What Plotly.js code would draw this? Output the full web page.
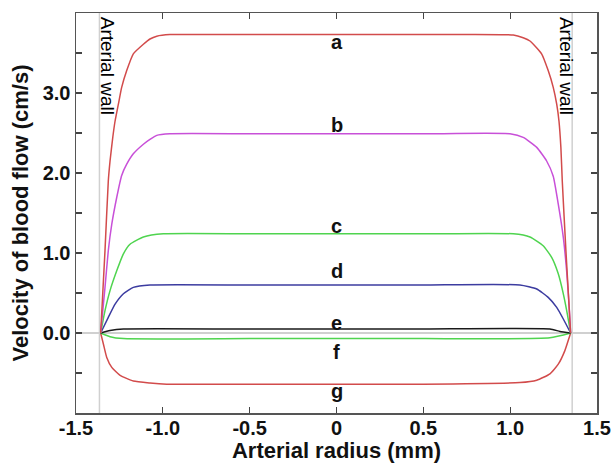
<!DOCTYPE html>
<html>
<head>
<meta charset="utf-8">
<script src="https://cdn.plot.ly/plotly-3.0.1.min.js"></script>
<style>html,body{margin:0;padding:0;background:#fff;}#chart{width:614px;height:463px;}</style>
</head>
<body>
<div id="chart"></div>
<script>
// Curve a
const xA = [-1.358, -1.333, -1.314, -1.304, -1.288, -1.275, -1.256, -1.237, -1.208, -1.170, -1.112, -1.074, -1.035, -0.959, -0.5, 0, 0.5, 1.018, 1.075, 1.114, 1.181, 1.219, 1.248, 1.268, 1.281, 1.292, 1.300, 1.321, 1.348];
const yA = [0, 1.03, 1.90, 2.15, 2.45, 2.65, 2.86, 3.07, 3.28, 3.49, 3.61, 3.675, 3.71, 3.73, 3.73, 3.73, 3.73, 3.725, 3.69, 3.65, 3.49, 3.28, 3.07, 2.86, 2.65, 2.32, 1.90, 1.03, 0];
// Curve b
const xB = [-1.358, -1.333, -1.314, -1.294, -1.265, -1.237, -1.208, -1.170, -1.112, -1.074, -1.035, -0.959, -0.5, 0, 0.5, 0.999, 1.075, 1.153, 1.210, 1.248, 1.277, 1.306, 1.325, 1.339, 1.348];
const yB = [0, 0.57, 1.03, 1.36, 1.70, 1.97, 2.11, 2.24, 2.36, 2.42, 2.47, 2.49, 2.49, 2.49, 2.49, 2.49, 2.445, 2.32, 2.15, 1.96, 1.61, 1.195, 0.78, 0.36, 0];
// Curve c
const xC = [-1.358, -1.333, -1.304, -1.265, -1.227, -1.189, -1.112, -0.997, -0.5, 0, 0.5, 1.018, 1.114, 1.19, 1.239, 1.277, 1.306, 1.329, 1.348];
const yC = [0, 0.28, 0.53, 0.78, 0.99, 1.11, 1.20, 1.24, 1.24, 1.24, 1.24, 1.24, 1.20, 1.09, 0.945, 0.74, 0.49, 0.24, 0];
// Curve d
const xD = [-1.358, -1.314, -1.275, -1.227, -1.170, -1.074, -0.5, 0, 0.5, 1.056, 1.153, 1.219, 1.268, 1.306, 1.348];
const yD = [0, 0.195, 0.36, 0.49, 0.57, 0.60, 0.60, 0.60, 0.60, 0.60, 0.55, 0.445, 0.32, 0.175, 0];
// Curve e
const xE = [-1.358, -1.304, -1.227, -0.5, 0, 0.5, 1.229, 1.287, 1.348];
const yE = [0, 0.03, 0.05, 0.05, 0.05, 0.05, 0.05, 0.02, 0];
// Curve f
const xF = [-1.358, -1.304, -1.227, -0.5, 0, 0.5, 1.229, 1.348];
const yF = [0, -0.046, -0.07, -0.07, -0.07, -0.07, -0.06, 0];
// Curve g
const xG = [-1.358, -1.342, -1.323, -1.294, -1.246, -1.170, -1.074, -0.978, -0.5, 0, 0.5, 1.056, 1.153, 1.229, 1.277, 1.315, 1.340, 1.348];
const yG = [0, -0.14, -0.305, -0.43, -0.53, -0.60, -0.625, -0.64, -0.64, -0.64, -0.64, -0.62, -0.59, -0.51, -0.39, -0.22, -0.055, 0];

const curveNames = ['a', 'b', 'c', 'd', 'e', 'f', 'g'];
const curveColors = ['#d24b4b', '#c850d8', '#4fd44f', '#3c3ca0', '#1a1a1a', '#4fd44f', '#d24b4b'];
const labelX = [0, 0, 0, 0, 0, 0, 0];
const labelY = [3.64, 2.60, 1.34, 0.77, 0.13, -0.24, -0.72];

const wallX = [-1.365, 1.357];
const wallLabelX = [-1.321, 1.321];
const wallLabelY = [3.34, 3.34];
const wallText = 'Arterial wall';

const xTickVals = [-1.5, -1.0, -0.5, 0, 0.5, 1.0, 1.5];
const xTickText = ['-1.5', '-1.0', '-0.5', '0', '0.5', '1.0', '1.5'];
const yTickVals = [-1.0, -0.5, 0, 0.5, 1.0, 1.5, 2.0, 2.5, 3.0, 3.5, 4.0];
const yTickText = ['', '', '0.0', '', '1.0', '', '2.0', '', '3.0', '', ''];

const xs = [xA, xB, xC, xD, xE, xF, xG];
const ys = [yA, yB, yC, yD, yE, yF, yG];

const FONT = 'Liberation Sans, Arial, sans-serif';

const traces = [];
wallX.forEach(function (wx) {
  traces.push({x: [wx, wx], y: [-1, 4], mode: 'lines', line: {color: '#d0d0d0', width: 1.5}, hoverinfo: 'skip', showlegend: false});
});
for (let i = xs.length - 1; i >= 0; i--) {
  traces.push({
    x: xs[i], y: ys[i], mode: 'lines', name: curveNames[i],
    line: {color: curveColors[i], width: 1.5, shape: 'spline', smoothing: 0.5},
    showlegend: false
  });
}

const annotations = curveNames.map(function (n, i) {
  return {x: labelX[i], y: labelY[i], xref: 'x', yref: 'y', text: n, showarrow: false,
    font: {family: FONT, size: 20, color: '#111', weight: 'bold'}, xanchor: 'center', yanchor: 'middle'};
});
wallLabelX.forEach(function (wx, i) {
  annotations.push({x: wx, y: wallLabelY[i], xref: 'x', yref: 'y', text: wallText, showarrow: false,
    textangle: 90, font: {family: FONT, size: 19, color: '#000'}, xanchor: 'center', yanchor: 'middle'});
});

const axisCommon = {
  showgrid: false, showline: true, linecolor: '#555', linewidth: 1.5, mirror: 'ticks',
  ticks: 'inside', ticklen: 6, tickwidth: 1.2, tickcolor: '#444',
  tickfont: {family: FONT, size: 20, color: '#111', weight: 'bold'}, tickmode: 'array'
};

const layout = {
  width: 614, height: 463,
  margin: {l: 76, r: 17, t: 13, b: 50},
  paper_bgcolor: '#fff', plot_bgcolor: '#fff',
  xaxis: Object.assign({}, axisCommon, {
    range: [-1.5, 1.5], tickvals: xTickVals, ticktext: xTickText, zeroline: false,
    ticklabelstandoff: -4,
    title: {text: 'Arterial radius (mm)', font: {family: FONT, size: 22, color: '#111', weight: 'bold'}, standoff: 4}
  }),
  yaxis: Object.assign({}, axisCommon, {
    range: [-1.0, 4.0], tickvals: yTickVals, ticktext: yTickText,
    zeroline: true, zerolinecolor: '#d0d0d0', zerolinewidth: 1.2,
    title: {text: 'Velocity of blood flow (cm/s)', font: {family: FONT, size: 22, color: '#111', weight: 'bold'}, standoff: 8}
  }),
  annotations: annotations
};

Plotly.newPlot('chart', traces, layout, {displayModeBar: false, staticPlot: true});
</script>
</body>
</html>
